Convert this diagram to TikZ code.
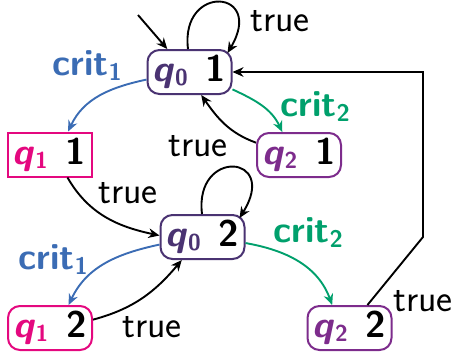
\documentclass[tikz,border=0pt]{standalone}
\usetikzlibrary{arrows.meta,calc}

\definecolor{qzero}{HTML}{4A3372}
\definecolor{qone}{HTML}{E4087F}
\definecolor{qtwo}{HTML}{7D2C8C}
\definecolor{critone}{HTML}{3B6CB4}
\definecolor{crittwo}{HTML}{00A06C}

% location name with a lowered index, e.g. q_0
\newcommand\locname[2]{\textit{#1}\raisebox{-2pt}{\fontsize{11.5}{11.5}\selectfont #2}}
% action label crit_i
\newcommand\critlbl[1]{crit\raisebox{-2.5pt}{\fontsize{12}{12}\selectfont #1}}

\begin{document}
\begin{tikzpicture}[x=0.5pt,y=-0.5pt,
  font=\sffamily\fontsize{19}{21}\selectfont,
  state/.style={draw, line width=1pt, rounded corners=6pt,
    minimum width=42pt, minimum height=22pt, inner sep=0pt,
    font=\sffamily\bfseries\fontsize{18.5}{20}\selectfont},
  lbl/.style={inner sep=0pt},
  critlabel/.style={inner sep=0pt, font=\sffamily\bfseries\fontsize{18.5}{20}\selectfont},
  edge/.style={line width=0.95pt, -{Stealth[length=5.5pt,width=4.8pt]}}
]
\useasboundingbox (0,0) rectangle (456,355);

% locations
\node[state, draw=qzero] (q0a) at (189.5,72) {{\color{qzero}\locname{q}{0}}\hspace{9pt}1};
\node[state, draw=qone, sharp corners] (q1a) at (49.5,154.5) {{\color{qone}\locname{q}{1}}\hspace{9pt}1};
\node[state, draw=qtwo] (q2a) at (299,155) {{\color{qtwo}\locname{q}{2}}\hspace{9pt}1};
\node[state, draw=qzero] (q0b) at (202.5,237) {{\color{qzero}\locname{q}{0}}\hspace{9pt}2};
\node[state, draw=qone] (q1b) at (50,328) {{\color{qone}\locname{q}{1}}\hspace{9pt}2};
\node[state, draw=qtwo] (q2b) at (349.5,328) {{\color{qtwo}\locname{q}{2}}\hspace{9pt}2};

% initial arrow
\coordinate (init) at (138,15);
\draw[edge] (init) -- (q0a.134);

% self loops
\draw[edge] ($(q0a.north)+(-1.5,0)$) .. controls ($(q0a.north)+(-9.5,-66)$) and ($(q0a.north)+(76,-60)$) .. ($(q0a.north east)+(-5,4)$);
\draw[edge] ($(q0b.north)+(-0.5,0)$) .. controls ($(q0b.north)+(-8.5,-66)$) and ($(q0b.north)+(77,-60)$) .. ($(q0b.north east)+(-6,4)$);

% transitions of the upper copy
\draw[edge, critone] (q0a.190) to[out=192, in=65] (q1a.51);
\draw[edge, crittwo] (q0a.-22) to[out=-25, in=115] (q2a.126);
\draw[edge] (q2a.164) to[out=160, in=-55] (q0a.-63);
\draw[edge] (q1a.-52) to[out=-60, in=168] (q0b.178);

% transitions of the lower copy
\draw[edge, critone] (q0b.190) to[out=192, in=65] (q1b.51);
\draw[edge] (q1b.11) to[out=15, in=230] (q0b.228);
\draw[edge, crittwo] (q0b.-8) to[out=-10, in=110] (q2b.127);

% back to the first copy
\coordinate (bend) at (423,237);
\draw[edge] (q2b.52) -- (bend) |- (q0a.east);

% labels
\node[lbl] (t1) at (280,21) {true};
\node[critlabel, text=critone] (c1a) at (87,66) {\critlbl{1}};
\node[critlabel, text=crittwo] (c2a) at (315,107) {\critlbl{2}};
\node[lbl] (t2) at (198,146) {true};
\node[lbl] (t3) at (128,193) {true};
\node[critlabel, text=critone] (c1b) at (53,260) {\critlbl{1}};
\node[critlabel, text=crittwo] (c2b) at (308,233) {\critlbl{2}};
\node[lbl] (t4) at (152,327) {true};
\node[lbl] (t5) at (423,301) {true};
\end{tikzpicture}
\end{document}
